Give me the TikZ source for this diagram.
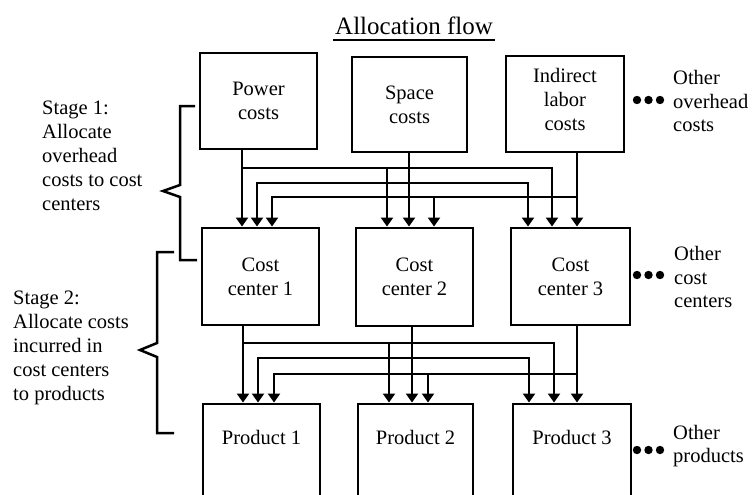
\documentclass[tikz,border=0pt]{standalone}
\usepackage{fontspec}
\setmainfont{Liberation Serif}
\usetikzlibrary{arrows.meta}
\newcommand\diagfont{\fontsize{20.5}{24}\selectfont}
\newcommand\titlefont{\fontsize{25}{28}\selectfont}
\begin{document}
\begin{tikzpicture}[x=1pt,y=-1pt,
  box/.style={draw, line width=2.9pt, inner sep=0pt, align=center, font=\diagfont},
  txt/.style={inner sep=0pt, align=left, font=\diagfont},
  ctxt/.style={inner sep=0pt, align=center, font=\diagfont},
  arr/.style={line width=2.1pt, -{Triangle[length=9pt,width=12pt]}},
  brace/.style={line width=2.5pt, line join=miter},
  dot/.style={fill=black}
]
\useasboundingbox (0,0) rectangle (752,495);
\clip (0,0) rectangle (752,495);

% title
\node[inner sep=0pt, font=\titlefont, anchor=base] (title) at (414,35) {Allocation flow};
\draw[line width=1.9pt] ([xshift=-2pt]title.base west) ++(0,5) coordinate (ul1)
  -- ([xshift=2pt]title.base east |- ul1);

% overhead cost pools
\node[box, minimum width=117pt, minimum height=96pt] (pw) at (258.5,101) {Power\\costs};
\node[box, minimum width=115pt, minimum height=95pt] (sp) at (409.5,104.5) {Space\\costs};
\node[box, minimum width=118pt, minimum height=96pt] (ind) at (565,104) {};
\node[ctxt] (indt) at (565,99) {Indirect\\labor\\costs};

% cost centers
\node[box, minimum width=117pt, minimum height=97pt] (cc1) at (260.5,276.5) {Cost\\center 1};
\node[box, minimum width=117pt, minimum height=98pt] (cc2) at (414.5,277) {Cost\\center 2};
\node[box, minimum width=119pt, minimum height=97pt] (cc3) at (570.5,276.5) {Cost\\center 3};

% products (boxes run off the lower edge)
\node[box, minimum width=117pt, minimum height=120pt] (p1) at (261.5,464) {};
\node[box, minimum width=115pt, minimum height=120pt] (p2) at (415.5,464) {};
\node[box, minimum width=118pt, minimum height=120pt] (p3) at (572,464) {};
\node[ctxt] (p1t) at (261.5,437) {Product 1};
\node[ctxt] (p2t) at (415.5,437) {Product 2};
\node[ctxt] (p3t) at (572,437) {Product 3};

% stage 1 drop columns and rows
\coordinate (a1) at (242,0); \coordinate (a2) at (257,0); \coordinate (a3) at (272,0);
\coordinate (b1) at (387,0); \coordinate (b2) at (409,0); \coordinate (b3) at (434,0);
\coordinate (c1) at (528,0); \coordinate (c2) at (552,0); \coordinate (c3) at (577,0);
\coordinate (r1) at (0,168); \coordinate (r2) at (0,183); \coordinate (r3) at (0,197);

% power costs
\draw[arr] (pw.south -| a1) -- (cc1.north -| a1);
\draw[arr] (a1 |- r1) -| (cc2.north -| b1);
\draw[arr] (b1 |- r1) -| (cc3.north -| c2);
% space costs
\draw[arr] (sp.south -| b2) -- (cc2.north -| b2);
\draw[arr] (b2 |- r2) -| (cc1.north -| a2);
\draw[arr] (b2 |- r2) -| (cc3.north -| c1);
% indirect labor costs
\draw[arr] (ind.south -| c3) -- (cc3.north -| c3);
\draw[arr] (c3 |- r3) -| (cc2.north -| b3);
\draw[arr] (b3 |- r3) -| (cc1.north -| a3);

% stage 2 drop columns and rows
\coordinate (d1) at (243,0); \coordinate (d2) at (258,0); \coordinate (d3) at (274,0);
\coordinate (e1) at (389,0); \coordinate (e2) at (412,0); \coordinate (e3) at (428,0);
\coordinate (f1) at (529,0); \coordinate (f2) at (554,0); \coordinate (f3) at (577,0);
\coordinate (s1) at (0,343); \coordinate (s2) at (0,358); \coordinate (s3) at (0,374);

% cost center 1
\draw[arr] (cc1.south -| d1) -- (p1.north -| d1);
\draw[arr] (d1 |- s1) -| (p2.north -| e1);
\draw[arr] (e1 |- s1) -| (p3.north -| f2);
% cost center 2
\draw[arr] (cc2.south -| e2) -- (p2.north -| e2);
\draw[arr] (e2 |- s2) -| (p1.north -| d2);
\draw[arr] (e2 |- s2) -| (p3.north -| f1);
% cost center 3
\draw[arr] (cc3.south -| f3) -- (p3.north -| f3);
\draw[arr] (f3 |- s3) -| (p2.north -| e3);
\draw[arr] (e3 |- s3) -| (p1.north -| d3);

% stage braces
\draw[brace] (195,106) -- (180,106) -- (180,185) -- (163,191) -- (180,197)
  -- (180,260) -- (197,260);
\draw[brace] (174,252) -- (157,252) -- (157,343) -- (140,350) -- (157,357)
  -- (157,433) -- (174,433);

% stage descriptions
\node[txt, anchor=west] (st1) at (42,156)
  {Stage 1:\\Allocate\\overhead\\costs to cost\\centers};
\node[txt, anchor=west] (st2) at (13,348)
  {Stage 2:\\Allocate costs\\incurred in\\cost centers\\to products};

% "other" items with ellipsis dots
\foreach \cx in {637,648.5,660} {
  \fill[dot] (\cx,100) circle (4.2);
  \fill[dot] (\cx,275) circle (4.2);
  \fill[dot] (\cx,450) circle (4.2);
}
\node[txt, anchor=west, font=\fontsize{20.5}{23.5}\selectfont] (oth1) at (673,101)
  {Other\\overhead\\costs};
\node[txt, anchor=west, font=\fontsize{20.5}{23.5}\selectfont] (oth2) at (674,277)
  {Other\\cost\\centers};
\node[txt, anchor=west, font=\fontsize{20.5}{23.5}\selectfont] (oth3) at (673,446)
  {Other\\products};
\end{tikzpicture}
\end{document}
